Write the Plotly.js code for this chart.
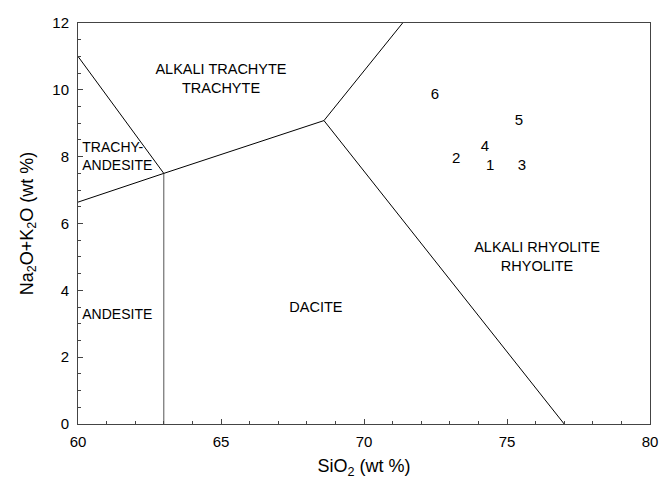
<!DOCTYPE html>
<html><head><meta charset="utf-8">
<script src="https://cdn.plot.ly/plotly-3.0.1.min.js"></script>
<style>html,body{margin:0;padding:0;background:#fff}</style>
</head><body><div id="chart" style="width:660px;height:487px"></div>
<script>
// Boundary lines (SiO2, Na2O+K2O)
const lineA_x = [60, 63];        const lineA_y = [11, 7.5];
const lineB_x = [63, 63];        const lineB_y = [7.5, 0];
const lineC_x = [60, 63, 68.6];  const lineC_y = [6.64, 7.5, 9.08];
const lineD_x = [68.6, 71.35];   const lineD_y = [9.08, 12];
const lineE_x = [68.6, 77];      const lineE_y = [9.08, 0];

// Samples
const sampleLabels = ['1', '2', '3', '4', '5', '6'];
const sampleSiO2   = [74.41, 73.22, 75.52, 74.23, 75.42, 72.48];
const sampleAlk    = [7.71, 7.93, 7.71, 8.27, 9.06, 9.83];

// Field names
const fieldText = ['ALKALI TRACHYTE<br>TRACHYTE', 'DACITE', 'ALKALI RHYOLITE<br>RHYOLITE'];
const fieldX = [65.0, 68.32, 76.05];
const fieldY = [10.3, 3.45, 4.97];
const leftFieldText = ['TRACHY-<br>ANDESITE', 'ANDESITE'];
const leftFieldX = [60.15, 60.15];
const leftFieldY = [7.98, 3.25];

const FONT = 'Liberation Sans, Arial, sans-serif';
const ln = {color: '#000', width: 1};
const traces = [
  {x: lineA_x, y: lineA_y, mode: 'lines', line: ln, hoverinfo: 'skip'},
  {x: lineB_x, y: lineB_y, mode: 'lines', line: {color: '#555', width: 1}, hoverinfo: 'skip'},
  {x: lineC_x, y: lineC_y, mode: 'lines', line: ln, hoverinfo: 'skip'},
  {x: lineD_x, y: lineD_y, mode: 'lines', line: ln, hoverinfo: 'skip'},
  {x: lineE_x, y: lineE_y, mode: 'lines', line: ln, hoverinfo: 'skip'},
  {x: sampleSiO2, y: sampleAlk, mode: 'text', text: sampleLabels, textposition: 'middle center',
   textfont: {family: FONT, size: 15, color: '#000'}},
  {x: fieldX, y: fieldY, mode: 'text', text: fieldText, textposition: 'middle center',
   textfont: {family: FONT, size: 14.5, color: '#000'}},
  {x: leftFieldX, y: leftFieldY, mode: 'text', text: leftFieldText, textposition: 'middle right',
   textfont: {family: FONT, size: 14, color: '#000'}}
];

const axCommon = {
  showgrid: false, zeroline: false, showline: true, linecolor: '#444', linewidth: 1, mirror: true,
  ticks: 'inside', ticklen: 5, tickcolor: '#444',
  tickfont: {family: FONT, size: 15, color: '#000'}
};

const layout = {
  width: 660, height: 487,
  margin: {l: 78, r: 10, t: 23, b: 63},
  paper_bgcolor: '#fff', plot_bgcolor: '#fff',
  showlegend: false,
  xaxis: Object.assign({}, axCommon, {
    range: [60, 80], tick0: 60, dtick: 5, ticklabelstandoff: 4,
    minor: {dtick: 1, ticks: 'inside', ticklen: 3, tickcolor: '#444'},
    title: {text: 'SiO<sub>2</sub> (wt %)', font: {family: FONT, size: 18, color: '#000'}, standoff: 10}
  }),
  yaxis: Object.assign({}, axCommon, {
    range: [0, 12], tick0: 0, dtick: 2, ticklabelstandoff: 5,
    minor: {dtick: 0.5, ticks: 'inside', ticklen: 3, tickcolor: '#444'},
    title: {text: 'Na<sub>2</sub>O+K<sub>2</sub>O (wt %)', font: {family: FONT, size: 18, color: '#000'}, standoff: 14}
  })
};

Plotly.newPlot('chart', traces, layout, {displayModeBar: false, staticPlot: true});
</script></body></html>
